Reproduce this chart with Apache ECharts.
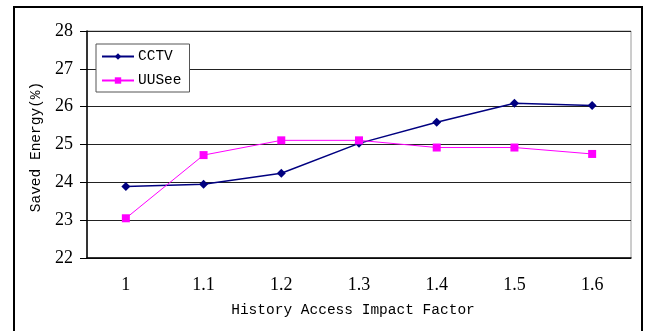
<!DOCTYPE html>
<html>
<head>
<meta charset="utf-8">
<script src="https://cdn.jsdelivr.net/npm/echarts@6/dist/echarts.min.js"></script>
<style>
html,body{margin:0;padding:0;background:#fff;}
#c{width:650px;height:331px;}
</style>
</head>
<body>
<div id="c"></div>
<script>
var categories = ['1', '1.1', '1.2', '1.3', '1.4', '1.5', '1.6'];
var cctv = [23.89, 23.95, 24.24, 25.03, 25.59, 26.09, 26.03];
var uusee = [23.05, 24.72, 25.11, 25.11, 24.92, 24.92, 24.75];
var yTicks = [22, 23, 24, 25, 26, 27, 28];

var chart = echarts.init(document.getElementById('c'), null, {renderer: 'canvas'});
var mono = '"Liberation Mono", monospace';
var serif = '"Liberation Serif", serif';
chart.setOption({
  backgroundColor: '#fff',
  animation: false,
  graphic: [{
    type: 'rect',
    shape: {x: 14, y: 7, width: 628, height: 400},
    style: {fill: 'none', stroke: '#000', lineWidth: 2},
    silent: true
  }],
  grid: {
    left: 87, right: 19, top: 31, bottom: 73,
    show: true, borderColor: '#9a9a9a', borderWidth: 1, backgroundColor: 'transparent'
  },
  legend: {
    orient: 'vertical',
    left: 96, top: 44,
    padding: [5, 8, 4, 5],
    itemWidth: 32, itemHeight: 8, itemGap: 9,
    backgroundColor: '#fff',
    borderColor: '#555', borderWidth: 1,
    textStyle: {fontFamily: mono, fontSize: 14.5, color: '#000', padding: [0, 0, 0, -1]},
    data: ['CCTV', 'UUSee']
  },
  xAxis: {
    type: 'category',
    data: categories,
    boundaryGap: true,
    name: 'History Access Impact Factor',
    nameLocation: 'middle',
    nameGap: 45,
    nameTextStyle: {fontFamily: mono, fontSize: 14.5, color: '#000', padding: [0, 12, 0, 0]},
    axisLine: {lineStyle: {color: '#000', width: 1.5}},
    axisTick: {inside: true, length: 6, lineStyle: {color: '#000'}},
    axisLabel: {fontFamily: serif, fontSize: 18, color: '#000', margin: 18},
    splitLine: {show: false}
  },
  yAxis: {
    type: 'value',
    min: 22, max: 28, interval: 1,
    name: 'Saved Energy(%)',
    nameLocation: 'middle',
    nameGap: 36,
    nameTextStyle: {fontFamily: mono, fontSize: 14.5, color: '#000', padding: [0, 5, 0, 0]},
    axisLine: {show: true, lineStyle: {color: '#000', width: 1.5}},
    axisTick: {show: true, inside: false, length: 7, lineStyle: {color: '#000'}},
    axisLabel: {fontFamily: serif, fontSize: 18, color: '#000', margin: 14,
      formatter: function (v) { return yTicks.indexOf(v) >= 0 ? String(v) : ''; }},
    splitLine: {show: true, lineStyle: {color: '#222', width: 1}}
  },
  series: [{
    name: 'CCTV',
    type: 'line',
    data: cctv,
    symbol: 'diamond',
    symbolSize: 9,
    itemStyle: {color: '#000080'},
    lineStyle: {color: '#000080', width: 1.5}
  }, {
    name: 'UUSee',
    type: 'line',
    data: uusee,
    symbol: 'rect',
    symbolSize: 8,
    itemStyle: {color: '#ff00ff'},
    lineStyle: {color: '#ff00ff', width: 1}
  }]
});
</script>
</body>
</html>
